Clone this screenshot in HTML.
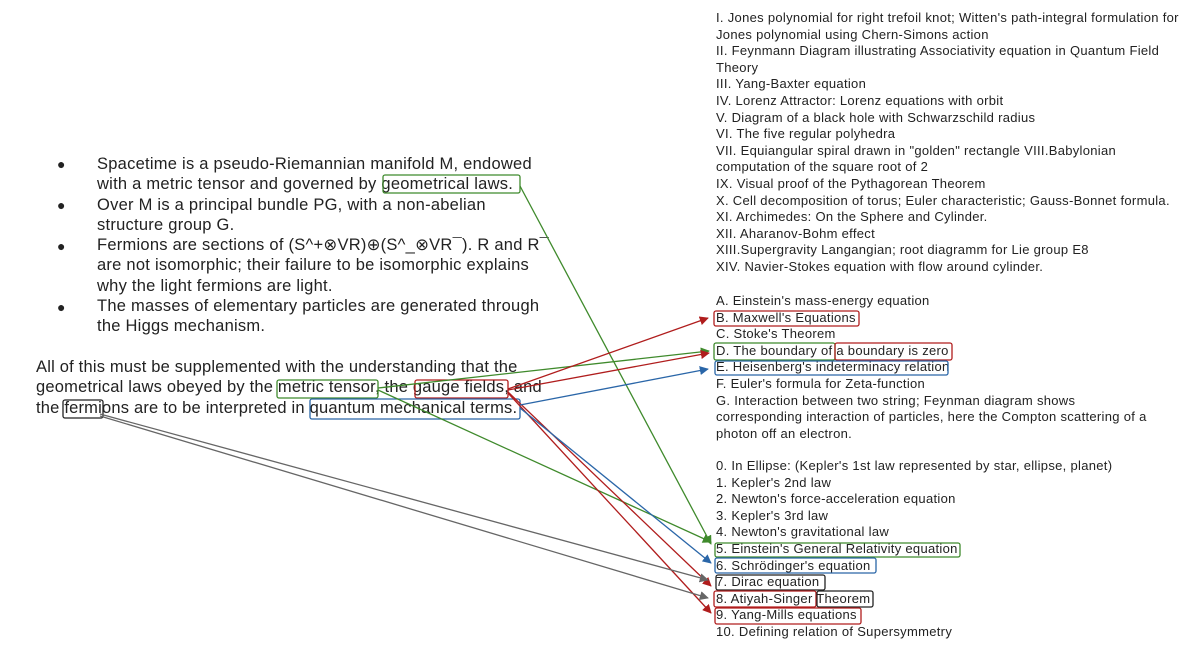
<!DOCTYPE html>
<html><head><meta charset="utf-8"><style>
body{margin:0;width:1200px;height:656px;background:#fff;position:relative;overflow:hidden;font-family:"Liberation Sans","DejaVu Sans",sans-serif;color:#222}
.r{position:absolute;left:716px;font-size:13px;letter-spacing:0.3px;line-height:16.6px;white-space:nowrap}
.l{position:absolute;font-size:16.5px;letter-spacing:0.25px;line-height:20.3px;white-space:nowrap}
.b{position:absolute;left:57px;font-size:14px}
svg{position:absolute;left:0;top:0}
</style></head><body>
<div class="r" style="top:10px">I. Jones polynomial for right trefoil knot; Witten's path-integral formulation for<br>Jones polynomial using Chern-Simons action<br>II. Feynmann Diagram illustrating Associativity equation in Quantum Field<br>Theory<br>III. Yang-Baxter equation<br>IV. Lorenz Attractor: Lorenz equations with orbit<br>V. Diagram of a black hole with Schwarzschild radius<br>VI. The five regular polyhedra<br>VII. Equiangular spiral drawn in "golden" rectangle VIII.Babylonian<br>computation of the square root of 2<br>IX. Visual proof of the Pythagorean Theorem<br>X. Cell decomposition of torus; Euler characteristic; Gauss-Bonnet formula.<br>XI. Archimedes: On the Sphere and Cylinder.<br>XII. Aharanov-Bohm effect<br>XIII.Supergravity Langangian; root diagramm for Lie group E8<br>XIV. Navier-Stokes equation with flow around cylinder.</div>
<div class="r" style="top:293px">A. Einstein's mass-energy equation<br>B. Maxwell's Equations<br>C. Stoke's Theorem<br>D. The boundary of a boundary is zero<br>E. Heisenberg's indeterminacy relation<br>F. Euler's formula for Zeta-function<br>G. Interaction between two string; Feynman diagram shows<br>corresponding interaction of particles, here the Compton scattering of a<br>photon off an electron.</div>
<div class="r" style="top:458px">0. In Ellipse: (Kepler's 1st law represented by star, ellipse, planet)<br>1. Kepler's 2nd law<br>2. Newton's force-acceleration equation<br>3. Kepler's 3rd law<br>4. Newton's gravitational law<br>5. Einstein's General Relativity equation<br>6. Schrödinger's equation<br>7. Dirac equation<br>8. Atiyah-Singer Theorem<br>9. Yang-Mills equations<br>10. Defining relation of Supersymmetry</div>
<div class="b" style="top:156px">●</div><div class="b" style="top:197px">●</div><div class="b" style="top:238px">●</div><div class="b" style="top:299px">●</div>
<div class="l" style="left:97px;top:154px">Spacetime is a pseudo-Riemannian manifold M, endowed<br>with a metric tensor and governed by geometrical laws.<br>Over M is a principal bundle PG, with a non-abelian<br>structure group G.<br>Fermions are sections of (S^+⊗VR)⊕(S^_⊗VR¯). R and R¯<br>are not isomorphic; their failure to be isomorphic explains<br>why the light fermions are light.<br>The masses of elementary particles are generated through<br>the Higgs mechanism.</div>
<div class="l" style="left:36px;top:357px;letter-spacing:0.2px">All of this must be supplemented with the understanding that the<br>geometrical laws obeyed by the metric tensor, the gauge fields, and<br>the fermions are to be interpreted in quantum mechanical terms.</div>
<svg width="1200" height="656">
<defs>
<marker id="g" viewBox="0 0 10 10" refX="9" refY="5" markerWidth="7" markerHeight="7" orient="auto"><path d="M0,0L10,5L0,10z" fill="#3f8a2c"/></marker>
<marker id="rd" viewBox="0 0 10 10" refX="9" refY="5" markerWidth="7" markerHeight="7" orient="auto"><path d="M0,0L10,5L0,10z" fill="#b01d1d"/></marker>
<marker id="bl" viewBox="0 0 10 10" refX="9" refY="5" markerWidth="7" markerHeight="7" orient="auto"><path d="M0,0L10,5L0,10z" fill="#2a66a8"/></marker>
<marker id="gr" viewBox="0 0 10 10" refX="9" refY="5" markerWidth="7" markerHeight="7" orient="auto"><path d="M0,0L10,5L0,10z" fill="#666"/></marker>
</defs>
<g fill="none" stroke-width="1.3">
<rect x="383" y="175" width="137" height="18" rx="2" stroke="#3f8a2c"/>
<rect x="277" y="380" width="101" height="18" rx="2" stroke="#3f8a2c"/>
<rect x="415" y="380" width="93" height="18" rx="2" stroke="#b01d1d"/>
<rect x="63" y="400" width="40" height="18" rx="2" stroke="#222"/>
<rect x="310" y="399" width="210" height="20" rx="2" stroke="#2a66a8"/>
<rect x="714" y="311" width="145" height="15" rx="2" stroke="#b01d1d"/>
<rect x="714" y="343" width="121" height="17" rx="2" stroke="#3f8a2c"/>
<rect x="835" y="343" width="117" height="17" rx="2" stroke="#b01d1d"/>
<rect x="715" y="361" width="233" height="14" rx="2" stroke="#2a66a8"/>
<rect x="715" y="543" width="245" height="14" rx="2" stroke="#3f8a2c"/>
<rect x="715" y="558" width="161" height="15" rx="2" stroke="#2a66a8"/>
<rect x="716" y="575" width="109" height="15" rx="2" stroke="#222"/>
<rect x="714" y="591" width="102" height="16" rx="2" stroke="#b01d1d"/>
<rect x="817" y="591" width="56" height="16" rx="2" stroke="#222"/>
<rect x="715" y="608" width="146" height="16" rx="2" stroke="#b01d1d"/>
<line x1="520" y1="186" x2="711" y2="544" stroke="#3f8a2c" marker-end="url(#g)"/>
<line x1="378" y1="388" x2="709" y2="351" stroke="#3f8a2c" marker-end="url(#g)"/>
<line x1="378" y1="390" x2="711" y2="542" stroke="#3f8a2c" marker-end="url(#g)"/>
<line x1="508" y1="389" x2="708" y2="318" stroke="#b01d1d" marker-end="url(#rd)"/>
<line x1="508" y1="390" x2="709" y2="353" stroke="#b01d1d" marker-end="url(#rd)"/>
<line x1="508" y1="392" x2="711" y2="586" stroke="#b01d1d" marker-end="url(#rd)"/>
<line x1="508" y1="393" x2="711" y2="613" stroke="#b01d1d" marker-end="url(#rd)"/>
<line x1="520" y1="405" x2="708" y2="369" stroke="#2a66a8" marker-end="url(#bl)"/>
<line x1="520" y1="408" x2="711" y2="563" stroke="#2a66a8" marker-end="url(#bl)"/>
<line x1="100" y1="414" x2="708" y2="580" stroke="#666" marker-end="url(#gr)"/>
<line x1="100" y1="416" x2="708" y2="598" stroke="#666" marker-end="url(#gr)"/>
</g>
</svg>
</body></html>
